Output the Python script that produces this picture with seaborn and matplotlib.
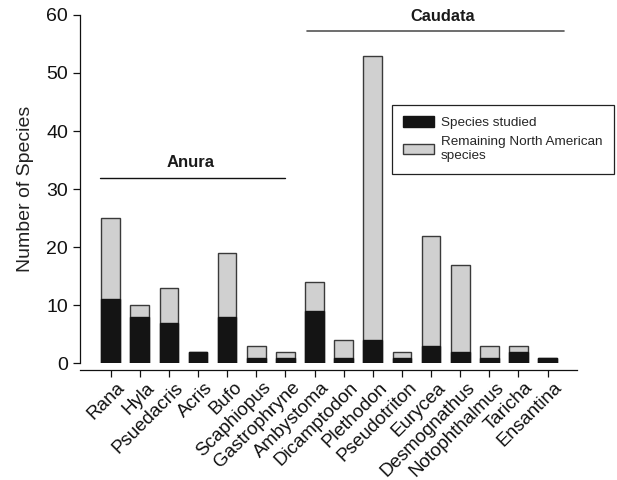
'''Species studied per genus, North American amphibians'''
import pandas as pd
import seaborn as sns
import matplotlib.pyplot as plt
import matplotlib.transforms as mtrans
from matplotlib.patches import Patch

genera = ['Rana', 'Hyla', 'Psuedacris', 'Acris', 'Bufo', 'Scaphiopus',
          'Gastrophryne', 'Ambystoma', 'Dicamptodon', 'Plethodon',
          'Pseudotriton', 'Eurycea', 'Desmognathus', 'Notophthalmus',
          'Taricha', 'Ensantina']
studied = [11, 8, 7, 2, 8, 1, 1, 9, 1, 4, 1, 3, 2, 1, 2, 1]
total = [25, 10, 13, 2, 19, 3, 2, 14, 4, 53, 2, 22, 17, 3, 3, 1]
groups = ['Anura', 'Caudata']


def main():
    '''main function
    '''
    sns.set_style('ticks')
    plt.rcParams['font.family'] = ['Liberation Sans', 'DejaVu Sans']

    df = pd.DataFrame({'genus': genera, 'studied': studied, 'total': total})

    fig = plt.figure(figsize=(6.17, 4.8), dpi=100)
    ax = fig.add_axes([0.1297, 0.243, 0.805, 0.726])

    # 全体 (灰色) の上に調査済み (黒) を重ねる
    sns.barplot(data=df, x='genus', y='total', color='#d0d0d0',
                edgecolor='#3a3a3a', linewidth=1.0, width=0.64,
                saturation=1, ax=ax)
    sns.barplot(data=df, x='genus', y='studied', color='#141414',
                edgecolor='#141414', linewidth=1.0, width=0.64,
                saturation=1, ax=ax)

    ax.set_xlim(-1.05, 16.0)
    ax.set_ylim(0, 60)
    ax.set_yticks(range(0, 61, 10))
    ax.set_xlabel('')
    ax.set_ylabel('Number of Species', fontsize=14, labelpad=9,
                  color='#222222')
    sns.despine(ax=ax)
    ax.spines['bottom'].set_position(('outward', 5))
    for side in ['left', 'bottom']:
        ax.spines[side].set_linewidth(0.9)
        ax.spines[side].set_color('#111111')
    ax.tick_params(axis='both', labelsize=14, colors='#111111',
                   direction='out', length=5, width=0.9)
    ax.tick_params(axis='x', labelsize=13.5, pad=2)
    shift = mtrans.ScaledTranslation(6 / 100, 1 / 100, fig.dpi_scale_trans)
    for lab in ax.get_xticklabels():
        lab.set_rotation(45)
        lab.set_ha('right')
        lab.set_va('top')
        lab.set_rotation_mode('anchor')
        lab.set_transform(lab.get_transform() + shift)

    # グループ線
    ax.plot([-0.38, 6.0], [32, 32], color='#111111', lw=1.0)
    ax.text(2.74, 34.5, groups[0], ha='center', va='center',
            fontsize=12, fontweight='bold', color='#1a1a1a')
    ax.plot([6.75, 15.58], [57.2, 57.2], color='#555555', lw=1.2,
            clip_on=False)
    ax.text(11.4, 59.8, groups[1], ha='center', va='center',
            fontsize=11.8, fontweight='bold', color='#1a1a1a',
            clip_on=False)

    handles = [Patch(facecolor='#141414', edgecolor='#141414',
                     label='Species studied'),
               Patch(facecolor='#d0d0d0', edgecolor='#3a3a3a',
                     label='Remaining North American\nspecies')]
    leg = ax.legend(handles=handles, loc='upper left',
                    bbox_to_anchor=(0.628, 0.742), borderaxespad=0,
                    fontsize=9.7, frameon=True, fancybox=False,
                    borderpad=0.85, handlelength=2.3, handleheight=0.8,
                    labelspacing=0.55, handletextpad=0.5)
    leg.get_frame().set_edgecolor('#222222')
    leg.get_frame().set_linewidth(0.9)
    leg.get_frame().set_alpha(1)

    fig.savefig('out.png', dpi=100)


if __name__ == '__main__':
    main()
